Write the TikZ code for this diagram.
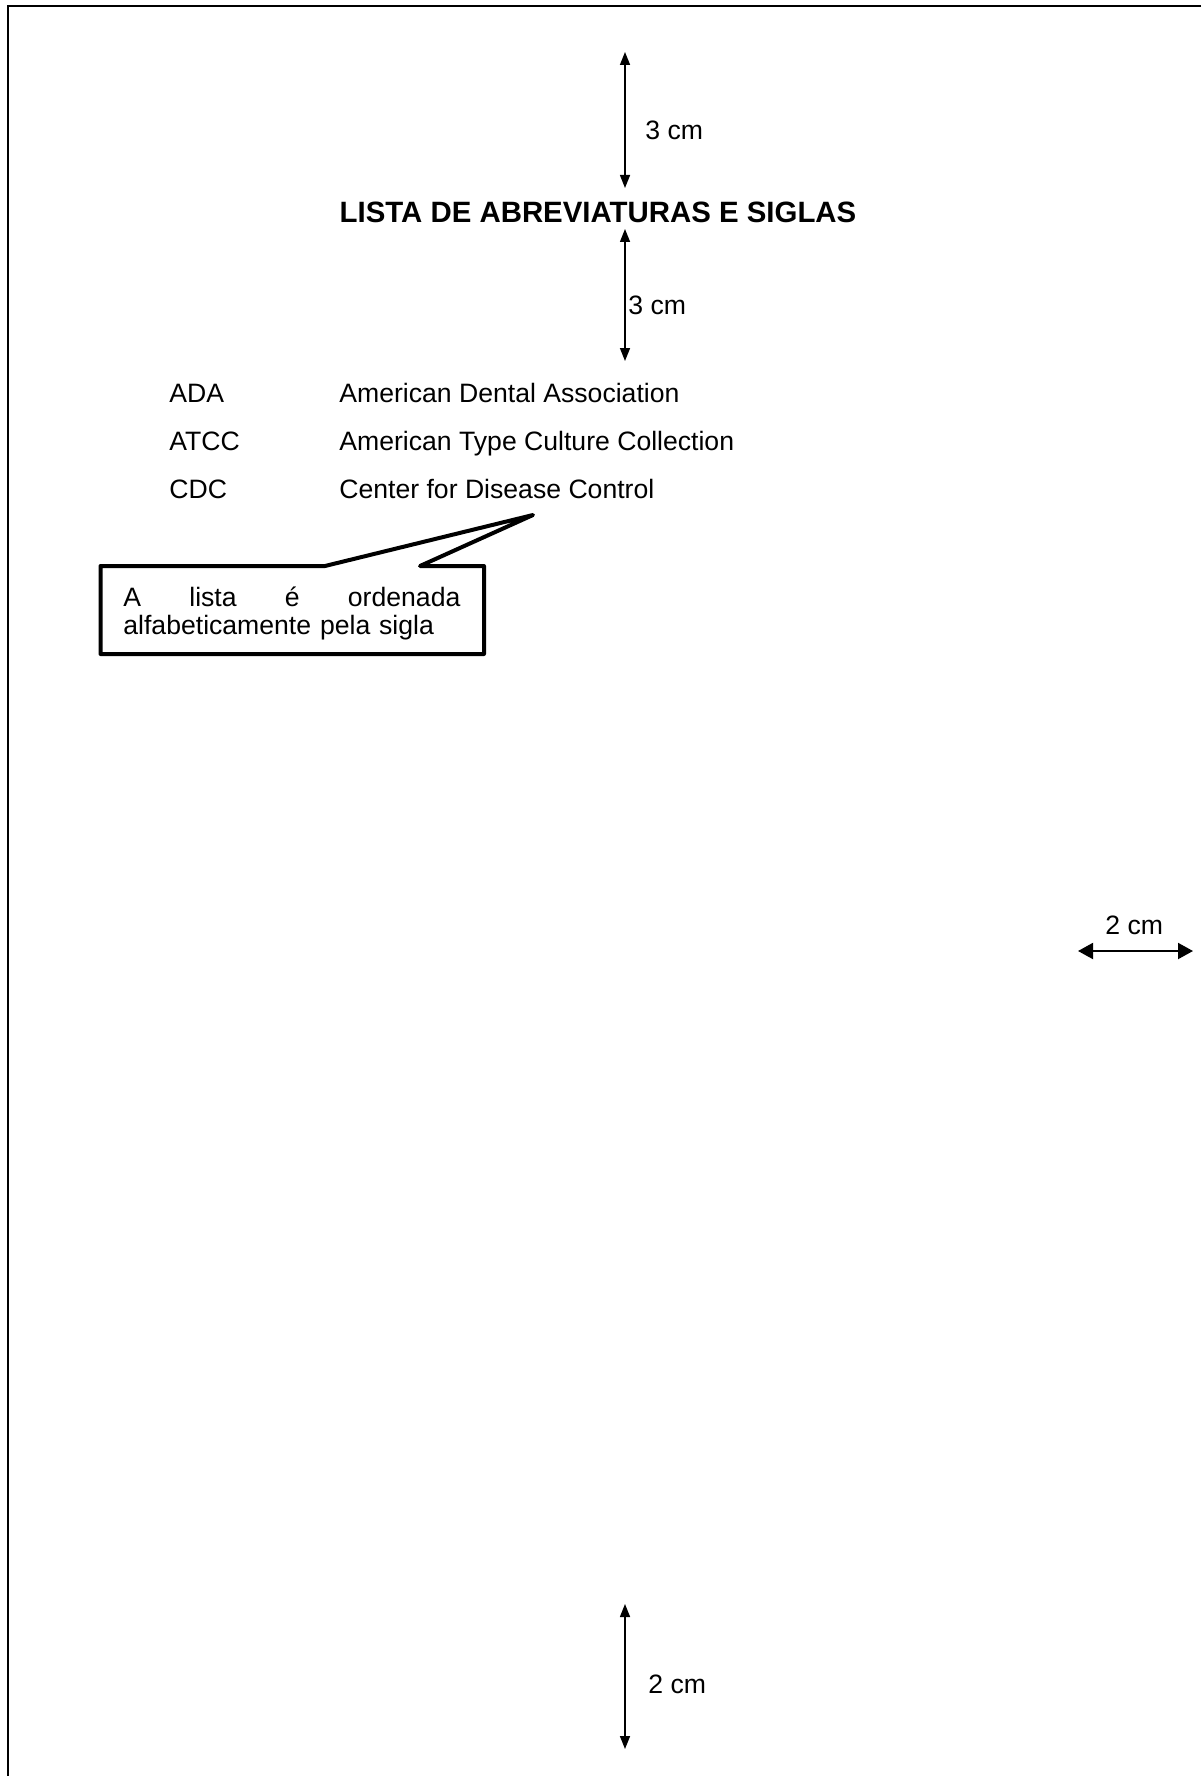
\documentclass[tikz,border=0pt]{standalone}
\usepackage{fontspec}
\setmainfont{Liberation Sans}
\usetikzlibrary{arrows.meta}
\begin{document}
\begin{tikzpicture}[x=0.5pt,y=-0.5pt,
  txt/.style={font=\fontsize{13.3pt}{14pt}\selectfont, inner sep=0pt, anchor=base west},
  titletxt/.style={font=\fontsize{14.7pt}{17pt}\selectfont\bfseries, inner sep=0pt, anchor=base},
  vdim/.style={line width=0.75pt, {Triangle[length=6.5pt,width=5pt]}-{Triangle[length=6.5pt,width=5pt]}},
  hdim/.style={line width=1pt, {Triangle[length=7.5pt,width=8pt]}-{Triangle[length=7.5pt,width=8pt]}},
  frame/.style={line width=1pt},
  callout/.style={line width=2pt, line join=round, fill=white}]
\useasboundingbox (0,0) rectangle (1201,1776);
% page frame
\coordinate (ftr) at (1201,6);
\coordinate (ftl) at (7.5,6);
\coordinate (fbl) at (7.5,1776);
\draw[frame] (ftr) -- (ftl) -- (fbl);

% dimension arrows
\coordinate (a1t) at (625,52);
\coordinate (a1b) at (625,188);
\coordinate (a2t) at (625,229);
\coordinate (a2b) at (625,361);
\coordinate (a3l) at (1078,951);
\coordinate (a3r) at (1193,951);
\coordinate (a4t) at (625,1604);
\coordinate (a4b) at (625,1749);
\draw[vdim] (a1t) -- (a1b);
\draw[vdim] (a2t) -- (a2b);
\draw[hdim] (a3l) -- (a3r);
\draw[vdim] (a4t) -- (a4b);
\node[txt] (l1) at (645,139.5) {3 cm};
\node[txt] (l2) at (628,314.5) {3 cm};
\node[txt] (l3) at (1105,934) {2 cm};
\node[txt] (l4) at (648,1693.5) {2 cm};

% title
\node[titletxt] (title) at (598,223) {LISTA DE ABREVIATURAS E SIGLAS};

% list
\node[txt] (s1) at (169,402) {ADA};
\node[txt] (d1) at (339,402) {American Dental Association};
\node[txt] (s2) at (169,450) {ATCC};
\node[txt] (d2) at (339,450) {American Type Culture Collection};
\node[txt] (s3) at (169,498) {CDC};
\node[txt] (d3) at (339,498) {Center for Disease Control};

% callout
\coordinate (ctip) at (533,515);
\draw[callout] (100.5,566) -- (325,566) -- (ctip) -- (420,566) -- (484,566) -- (484,654) -- (100.5,654) -- cycle;
\node[txt, anchor=north west, text width=168.5pt, align=left] (note) at (123,587)
  {A\hfill lista\hfill é\hfill ordenada\\alfabeticamente pela sigla};
\end{tikzpicture}
\end{document}
